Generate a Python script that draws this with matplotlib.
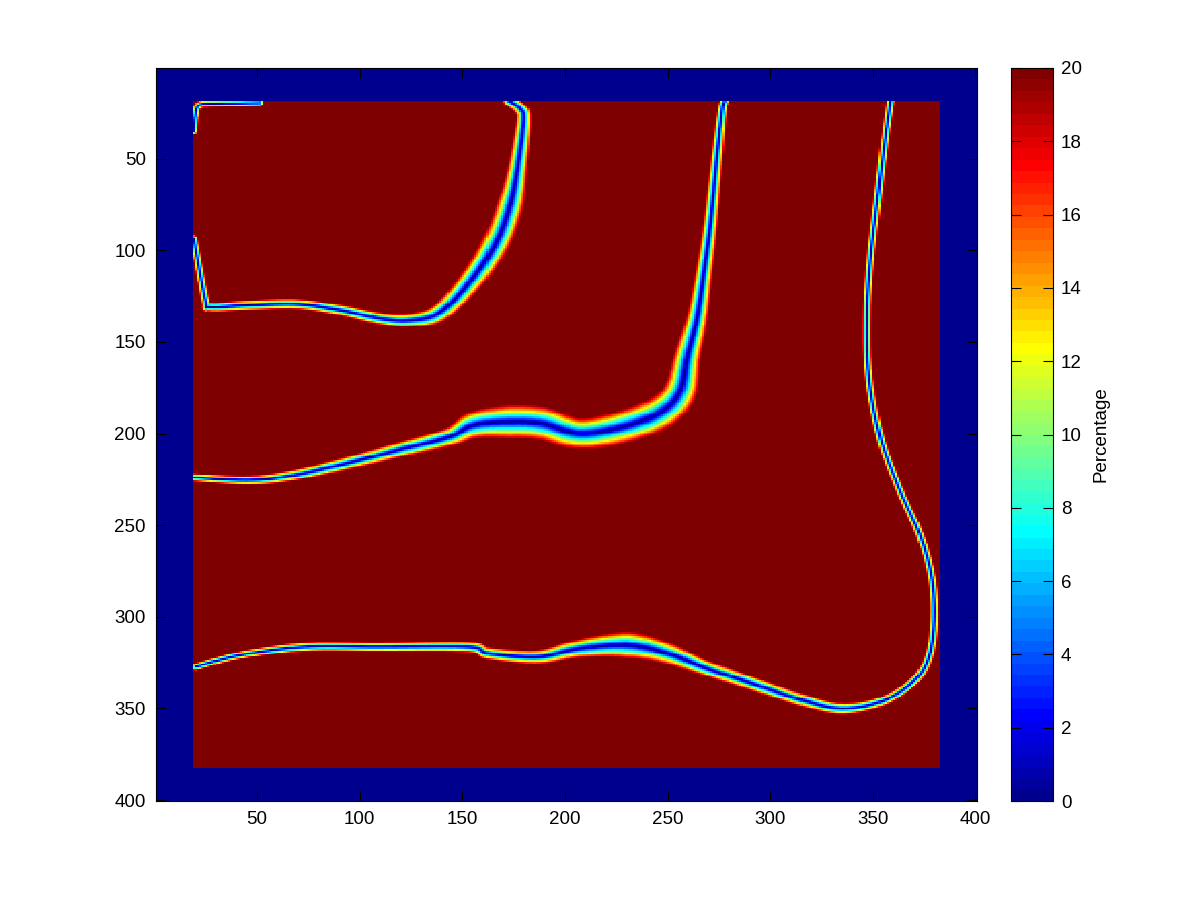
import numpy as np
import matplotlib
matplotlib.use("Agg")
import matplotlib.pyplot as plt
from matplotlib.colors import ListedColormap

plt.rcParams['font.family'] = ['Liberation Sans', 'DejaVu Sans']

# grid size and blank border (cells)
n_grid = 400
inner_lo, inner_hi = 19, 382

# low-percentage bands: centre line x, y and band width
loop_x = [18.9, 24.6, 27.1, 44.9, 69.3, 90.4, 110.0, 124.5, 139.1, 155.3, 166.7, 173.2, 176.5, 179.7, 178.0, 172.4]
loop_y = [93.6, 127.2, 130.9, 130.0, 129.4, 132.7, 137.2, 138.1, 133.6, 114.5, 94.5, 74.5, 56.3, 29.0, 22.7, 18.5]
loop_w = [1.2, 1.3, 1.5, 1.7, 1.7, 1.8, 2.0, 2.3, 3.0, 3.8, 4.2, 4.0, 3.0, 2.2, 2.0, 1.8]

corner_x = [18.8, 19.5, 20.5, 23.0, 30.0, 40.0, 51.0]
corner_y = [35.0, 27.0, 22.0, 20.3, 20.0, 19.8, 19.5]
corner_w = [1.2, 1.2, 1.2, 1.2, 1.2, 1.2, 1.2]

mid_x = [19.2, 46.1, 67.9, 96.4, 121.6, 143.5, 155.2, 172.0, 188.8, 207.3, 230.8, 247.7, 256.0, 259.3, 264.2, 267.4, 270.7, 273.9, 276.4, 277.5]
mid_y = [224.0, 225.4, 222.7, 215.4, 208.1, 201.8, 195.4, 193.6, 194.5, 200.0, 195.4, 187.2, 176.3, 158.2, 136.3, 112.7, 85.4, 49.0, 23.6, 19.0]
mid_w = [1.3, 1.5, 1.8, 2.2, 2.6, 3.0, 4.5, 5.5, 5.5, 5.0, 5.5, 5.5, 5.0, 4.0, 3.2, 2.6, 2.2, 1.8, 1.4, 1.3]

outer_x = [358.3, 355.9, 351.9, 348.6, 347.0, 347.8, 353.5, 363.2, 373.0, 378.7, 379.5, 376.2, 368.1, 353.5, 334.5,
           315.4, 291.2, 266.9, 250.0, 230.6, 206.3, 186.9, 162.7, 153.0, 109.4, 73.0, 41.5, 19.7]
outer_y = [18.8, 37.0, 73.5, 105.2, 134.4, 168.5, 202.6, 231.9, 256.2, 280.5, 305.0, 324.4, 336.6, 346.3, 350.0,
           345.4, 336.4, 327.3, 320.0, 315.5, 317.3, 321.8, 320.0, 316.4, 316.4, 316.4, 320.9, 327.3]
outer_w = [1.3, 1.3, 1.3, 1.3, 1.3, 1.3, 1.3, 1.3, 1.3, 1.3, 1.4, 1.4, 1.5, 1.6, 1.9,
           2.1, 2.3, 2.6, 3.5, 4.3, 3.0, 2.3, 2.0, 1.8, 1.5, 1.5, 1.3, 1.2]

bands = [(loop_x, loop_y, loop_w), (corner_x, corner_y, corner_w),
         (mid_x, mid_y, mid_w), (outer_x, outer_y, outer_w)]


def matlab_jet(m=64):
    n = int(np.ceil(m / 4))
    u = np.concatenate([np.arange(1, n + 1) / n, np.ones(n - 1), np.arange(n, 0, -1) / n])
    g = int(np.ceil(n / 2)) - int(m % 4 == 1) + np.arange(1, len(u) + 1)
    r = g + n
    b = g - n
    J = np.zeros((m, 3))
    J[r[r <= m] - 1, 0] = u[r <= m]
    J[g[g <= m] - 1, 1] = u[g <= m]
    J[b[b >= 1] - 1, 2] = u[b >= 1]
    return ListedColormap(J)


def smooth_path(xs, ys, ws, sub=10):
    # catmull-rom through the read points so the band has no corners
    P = np.column_stack([xs, ys, ws]).astype(float)
    P = np.vstack([P[0], P, P[-1]])
    out = []
    for i in range(1, len(P) - 2):
        p0, p1, p2, p3 = P[i - 1], P[i], P[i + 1], P[i + 2]
        for t in np.linspace(0, 1, sub, endpoint=False):
            t2, t3 = t * t, t * t * t
            pt = 0.5 * ((2 * p1) + (-p0 + p2) * t + (2 * p0 - 5 * p1 + 4 * p2 - p3) * t2
                        + (-p0 + 3 * p1 - 3 * p2 + p3) * t3)
            pt[2] = p1[2] + t * (p2[2] - p1[2])
            out.append(pt)
    out.append(P[-2])
    out = np.array(out)
    return out[:, 0], out[:, 1], out[:, 2]


def band_dist(xs, ys, ws, X, Y):
    best = np.full(X.shape, np.inf)
    for i in range(len(xs) - 1):
        x0, y0, x1, y1 = xs[i], ys[i], xs[i + 1], ys[i + 1]
        dx, dy = x1 - x0, y1 - y0
        L2 = dx * dx + dy * dy
        if L2 == 0:
            continue
        t = np.clip(((X - x0) * dx + (Y - y0) * dy) / L2, 0, 1)
        d = np.hypot(X - (x0 + t * dx), Y - (y0 + t * dy))
        w = ws[i] + t * (ws[i + 1] - ws[i])
        best = np.minimum(best, d / w)
    return best


X, Y = np.meshgrid(np.arange(1, n_grid + 1), np.arange(1, n_grid + 1))
rr = np.full(X.shape, np.inf)
for bx, by, bw in bands:
    sx, sy, sw = smooth_path(bx, by, bw)
    rr = np.minimum(rr, band_dist(sx, sy, sw * 1.7, X, Y))
Z = 20 * np.clip(rr, 0, 1)
inside = (X >= inner_lo) & (X <= inner_hi) & (Y >= inner_lo) & (Y <= inner_hi)
Z[~inside] = 0

fig = plt.figure(figsize=(12, 9), dpi=100)
ax = fig.add_axes([155.5 / 1200, 99 / 900, 821 / 1200, 733 / 900])
im = ax.imshow(Z, cmap=matlab_jet(64), vmin=0, vmax=20, interpolation='nearest',
               extent=(0.5, n_grid + 0.5, n_grid + 0.5, 0.5), aspect='auto')
ax.set_xticks(range(50, 401, 50))
ax.set_yticks(range(50, 401, 50))
ax.tick_params(direction='in', top=True, right=True, length=7, labelsize=13.5, pad=7)

cax = fig.add_axes([1010.5 / 1200, 99 / 900, 42 / 1200, 733 / 900])
cb = fig.colorbar(im, cax=cax, ticks=range(0, 21, 2))
cax.tick_params(direction='in', left=True, right=True, length=7, labelsize=13.5, pad=6)
cb.set_label('Percentage', fontsize=13.5, labelpad=8)
cb.outline.set_linewidth(0.8)

fig.savefig('out.png', dpi=100)
